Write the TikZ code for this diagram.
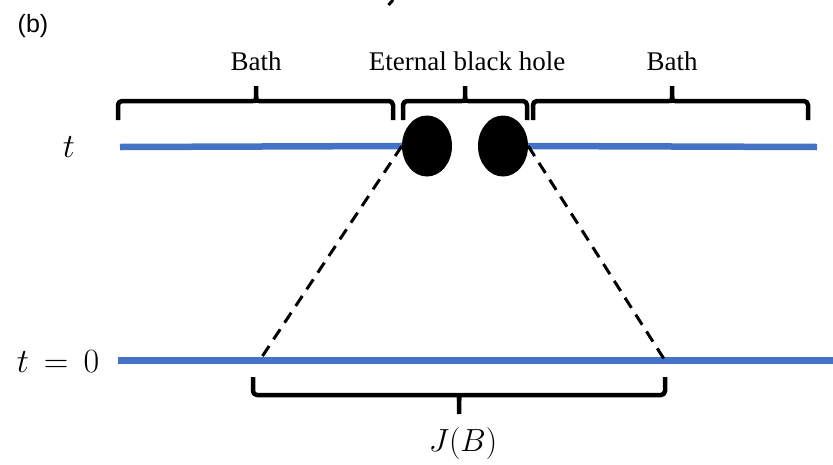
\RequirePackage{fix-cm}
\documentclass[tikz,border=0pt]{standalone}
\usepackage{fontspec}
\newfontfamily\timesfont{Liberation Serif}
\newfontfamily\arialfont{Liberation Sans}
\usetikzlibrary{shapes.geometric}
\definecolor{lineblue}{HTML}{4472C4}

% square brace with a stem: x left, x stem, x right, y tips, y bar, y stem end
\newcommand{\bracket}[6]{%
  \draw[bracket] (#1,#4) -- (#1,#5) -- ({#2-7},#5)
    .. controls (#2,#5) .. (#2,{#5+0.3*(#6-#5)}) -- (#2,#6);
  \draw[bracket] (#3,#4) -- (#3,#5) -- ({#2+7},#5)
    .. controls (#2,#5) .. (#2,{#5+0.3*(#6-#5)});
}

\begin{document}
\begin{tikzpicture}
[
    x=1pt, y=-1pt,
    timeline/.style={draw=lineblue, line width=6.5pt},
    bracket/.style={line width=4.5pt, rounded corners=4pt, line join=round},
    hole/.style={ellipse, fill=black, inner sep=0pt, minimum width=50pt, minimum height=61pt},
    lightcone/.style={line width=3pt, dash pattern=on 12pt off 8pt},
    region/.style={font=\timesfont\fontsize{27}{31}\selectfont, anchor=base},
    timelabel/.style={font=\fontsize{34}{40}\selectfont, anchor=base}
]
    \useasboundingbox (0,0) rectangle (833,464);

    \node [font=\arialfont\fontsize{25}{30}\selectfont] (panel) at (33,26) {(b)};
    \draw [line width=3pt] (388.5,5) -- (393,0);

    % black holes
    \node [hole] (bhL) at (427,146) {};
    \node [hole] (bhR) at (503,146) {};

    % time slices
    \coordinate (topL) at (120,147);
    \coordinate (topR) at (817,147);
    \coordinate (botL) at (118,360.5);
    \coordinate (botR) at (833,360.5);
    \coordinate (jL) at (259.5,360.5);
    \coordinate (jR) at (665,360.5);
    \draw [timeline] (topL) -- (bhL.west);
    \draw [timeline] (bhR.east) -- (topR);
    \draw [timeline] (botL) -- (botR);

    \draw [lightcone] (bhL.west) -- (jL);
    \draw [lightcone] (bhR.east) -- (jR);

    \node [timelabel] (tNow) at (69,157) {$t$};
    \node [timelabel] (tZero) at (58,372) {$t\,=\,0$};

    % braces and their labels
    \bracket{118}{256}{393}{120}{101}{86}
    \bracket{403}{465}{527}{120}{101}{86}
    \bracket{533}{672}{808}{120}{101}{86}
    \bracket{253}{459}{665}{377}{395}{414}

    \node [region] (bathL) at (256,70) {Bath};
    \node [region] (bhText) at (467,70) {Eternal black hole};
    \node [region] (bathR) at (672,70) {Bath};
    \node [timelabel, anchor=center, font=\fontsize{32}{38}\selectfont] (island) at (463,443) {$J(B)$};
\end{tikzpicture}
\end{document}
